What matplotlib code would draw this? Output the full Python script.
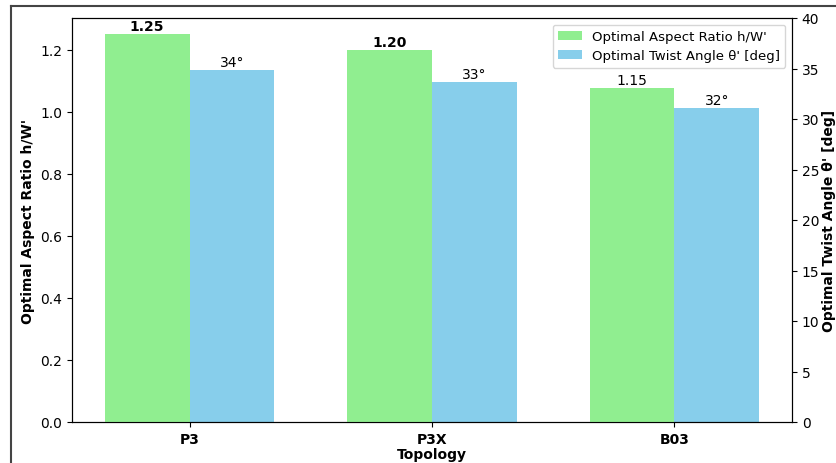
import matplotlib
matplotlib.use("Agg")
import matplotlib.pyplot as plt
import numpy as np
from matplotlib.lines import Line2D

categories = ['P3', 'P3X', 'B03']
aspect_ratio = [1.25, 1.20, 1.077]
twist_angle = [34.85, 33.66, 31.09]
aspect_labels = ['1.25', '1.20', '1.15']
aspect_label_bold = [True, True, False]
angle_labels = ['34°', '33°', '32°']

plt.rcParams['font.family'] = ['DejaVu Sans']
plt.rcParams['font.size'] = 10

fig = plt.figure(figsize=(8.37, 4.64), dpi=100)
W, H = 837, 464
ax = fig.add_axes([72 / W, (H - 423) / H, (792 - 72) / W, (423 - 19) / H])
ax2 = ax.twinx()

x = np.arange(len(categories))
width = 0.35
b1 = ax.bar(x - width / 2, aspect_ratio, width, color='#90EE90',
            label="Optimal Aspect Ratio h/W'")
b2 = ax2.bar(x + width / 2, twist_angle, width, color='#87CEEB',
             label="Optimal Twist Angle θ' [deg]")

ax.set_ylim(0, 1.303)
ax2.set_ylim(0, 40)
ax.set_yticks(np.arange(0, 1.21, 0.2))
ax2.set_yticks(np.arange(0, 41, 5))

ax.set_xticks(x)
ax.set_xticklabels(categories, fontweight='bold')
ax.set_xlabel('Topology', fontweight='bold', labelpad=1)
ax.set_ylabel("Optimal Aspect Ratio h/W'", fontweight='bold')
ax2.set_ylabel("Optimal Twist Angle θ' [deg]", fontweight='bold', labelpad=2)

for rect, lab, bold in zip(b1, aspect_labels, aspect_label_bold):
    ax.annotate(lab, (rect.get_x() + rect.get_width() / 2, rect.get_height()),
                xytext=(0, 1), textcoords='offset points', ha='center', va='bottom',
                fontsize=10, fontweight='bold' if bold else 'normal')
for rect, lab in zip(b2, angle_labels):
    ax2.annotate(lab, (rect.get_x() + rect.get_width() / 2, rect.get_height()),
                 xytext=(0, 1), textcoords='offset points', ha='center', va='bottom',
                 fontsize=10)

h1, l1 = ax.get_legend_handles_labels()
h2, l2 = ax2.get_legend_handles_labels()
ax.legend(h1 + h2, l1 + l2, loc='upper right', fontsize=9.5, handlelength=1.8)
ax.set_zorder(ax2.get_zorder() + 1)
ax.patch.set_visible(False)

# outer frame of the original screenshot
fig.add_artist(Line2D([11 / W, 11 / W], [0, 1 - 7 / H], transform=fig.transFigure,
                      color='#444444', lw=1.5))
fig.add_artist(Line2D([11 / W, 1], [1 - 7 / H, 1 - 7 / H], transform=fig.transFigure,
                      color='#444444', lw=1.5))

fig.savefig('out.png', dpi=100)
